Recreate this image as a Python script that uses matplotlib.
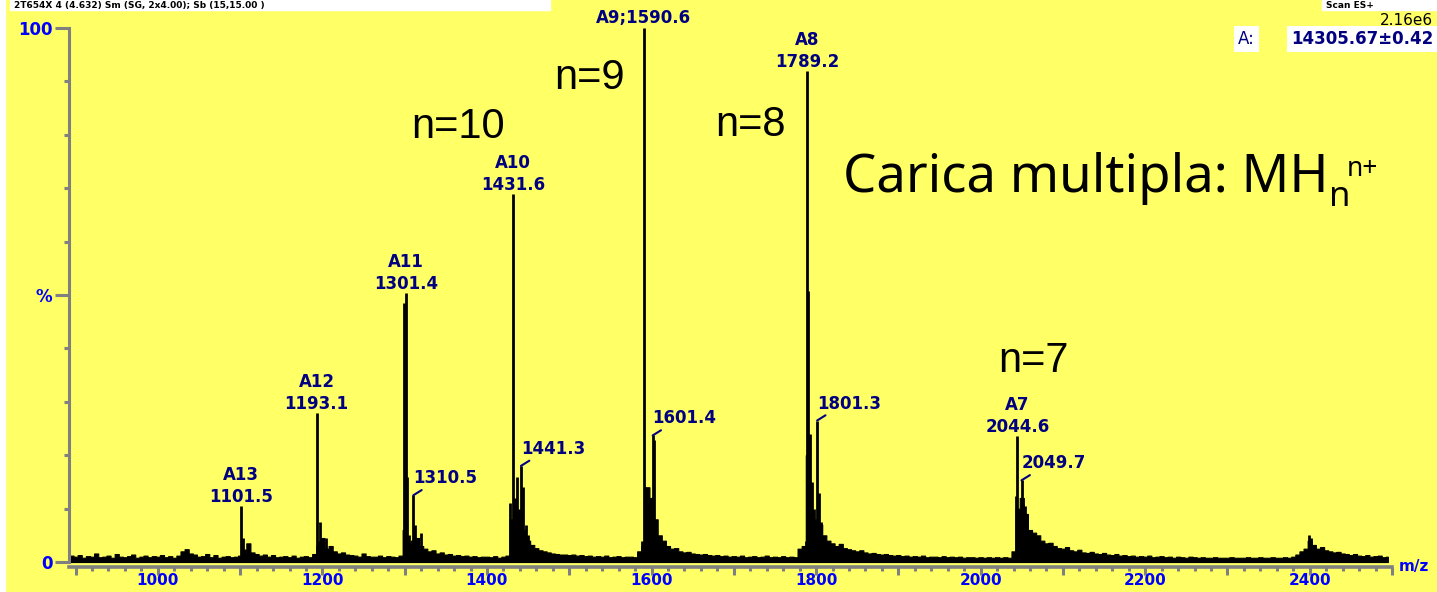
import numpy as np
import matplotlib.pyplot as plt
from matplotlib.ticker import MultipleLocator, FuncFormatter
from matplotlib.patches import Rectangle

# profile (baseline + adduct tails), sampled every 5 m/z starting at 890
profile_start = 890
profile_step = 5
profile_int = [
    2.0, 1.2,
    1.0, 1.3, 0.8, 1.1, 1.0, 1.6, 0.9, 1.0, 1.2, 0.8, 1.5, 1.0, 0.9, 1.1, 1.4, 0.8, 1.0, 1.2, 0.9, 1.1,   # 900
    1.0, 1.3, 0.9, 1.1, 0.8, 1.2, 2.0, 2.4, 1.6, 1.4, 1.0, 1.1, 1.5, 0.9, 1.3, 0.8, 1.0, 1.1, 0.9, 1.0,   # 1000
    1.2, 1.5, 3.5, 1.8, 1.5, 1.2, 1.4, 1.0, 1.3, 0.9, 1.0, 1.1, 0.9, 1.2, 0.8, 1.0, 1.1, 0.9, 1.5, 3.0,   # 1100
    4.5, 2.5, 3.0, 2.0, 1.6, 1.8, 1.4, 1.3, 1.2, 1.0, 1.6, 1.1, 1.0, 1.0, 1.2, 0.9, 1.1, 1.0, 0.9, 1.2,   # 1200
    6.0, 3.5, 4.0, 4.5, 3.0, 2.5, 2.0, 2.2, 1.6, 1.8, 1.4, 1.5, 1.2, 1.3, 1.1, 1.2, 1.0, 1.1, 0.9, 1.0,   # 1300
    1.0, 0.9, 1.1, 0.8, 1.0, 1.2, 8.0, 9.0, 7.0, 6.0, 4.0, 3.2, 2.6, 2.2, 2.0, 1.8, 1.6, 1.5, 1.4, 1.4,   # 1400
    1.3, 1.4, 1.2, 1.3, 1.1, 1.2, 1.0, 1.1, 1.0, 1.2, 0.9, 1.0, 1.1, 0.9, 1.0, 1.0, 0.9, 2.0, 3.0, 14.0,  # 1500
    12.0, 8.0, 5.0, 4.0, 3.0, 2.5, 2.6, 2.0, 1.8, 1.9, 1.6, 1.5, 1.4, 1.5, 1.3, 1.2, 1.3, 1.1, 1.2, 1.0,  # 1600
    1.1, 1.0, 1.2, 0.9, 1.0, 1.1, 0.9, 1.0, 1.2, 0.9, 1.0, 0.9, 1.1, 0.9, 1.0, 0.9, 2.5, 3.0, 20.0, 9.0,  # 1700
    8.0, 7.0, 5.0, 4.0, 3.5, 3.0, 3.4, 2.6, 2.4, 2.2, 2.0, 2.2, 1.8, 1.6, 1.7, 1.5, 1.4, 1.5, 1.3, 1.2,   # 1800
    1.3, 1.1, 1.2, 1.0, 1.1, 1.0, 1.2, 0.9, 1.0, 1.0, 0.9, 1.1, 0.9, 1.0, 0.9, 1.0, 0.8, 0.9, 0.9, 0.8,   # 1900
    0.9, 0.8, 0.9, 0.8, 0.9, 0.8, 0.9, 0.8, 2.0, 10.0, 12.0, 9.0, 6.0, 5.5, 5.0, 4.0, 3.5, 3.6, 3.0, 2.6, # 2000
    2.5, 2.8, 2.2, 2.0, 2.3, 1.8, 1.7, 1.9, 1.6, 1.5, 1.7, 1.4, 1.3, 1.5, 1.2, 1.3, 1.1, 1.2, 1.0, 1.1,   # 2100
    1.0, 1.2, 0.9, 1.0, 1.1, 0.9, 1.0, 0.8, 1.0, 0.9, 0.8, 1.0, 0.9, 0.8, 0.9, 0.8, 0.8, 0.9, 0.8, 0.8,   # 2200
    0.8, 0.9, 0.8, 0.8, 0.8, 0.9, 0.8, 0.8, 0.9, 0.8, 0.8, 0.9, 0.8, 0.8, 0.9, 0.8, 1.0, 1.4, 2.0, 2.5,   # 2300
    4.0, 3.2, 2.5, 2.8, 2.2, 2.0, 1.8, 1.9, 1.6, 1.5, 1.3, 1.5, 1.2, 1.1, 1.3, 1.0, 1.1, 1.2, 0.9, 1.0,   # 2400
]

# centroid sticks of the charge-state clusters
stick_mz = [1101.5, 1104.0, 1106.5,
            1193.1, 1195.0, 1197.5, 1204.0,
            1299.6, 1301.4, 1303.0, 1305.5, 1310.5, 1313.0, 1316.0, 1320.0,
            1428.5, 1431.6, 1433.5, 1436.0, 1438.5, 1441.3, 1443.5, 1447.0, 1450.0,
            1588.8, 1590.6, 1592.2, 1594.0, 1596.0, 1601.4, 1603.2, 1606.0, 1609.0,
            1787.8, 1789.2, 1790.6, 1792.5, 1794.5, 1797.0, 1801.3, 1803.5, 1806.0, 1809.0,
            2042.5, 2044.6, 2046.5, 2049.7, 2052.0, 2054.0, 2056.5, 2060.0, 2064.0,
            2399.0, 2401.0]
stick_int = [10.5, 4.5, 2.5,
             27.9, 4.0, 7.5, 4.5,
             48.5, 50.3, 16.0, 5.0, 12.5, 7.0, 4.0, 5.5,
             11.0, 69.0, 12.0, 16.0, 10.0, 18.0, 14.0, 7.0, 5.0,
             4.0, 100.0, 14.0, 12.5, 8.0, 23.7, 22.8, 6.5, 4.0,
             4.0, 92.0, 50.8, 24.0, 15.0, 10.0, 26.5, 13.0, 7.5, 4.0,
             12.3, 23.6, 9.0, 15.3, 10.8, 10.5, 6.0, 5.2, 3.5,
             5.0, 4.5]

# labelled ions
ion_names = ["A13", "A12", "A11", "A10", "A8", "A7"]
ion_mz = [1101.5, 1193.1, 1301.4, 1431.6, 1789.2, 2044.6]
ion_int = [10.5, 27.9, 50.3, 69.0, 92.0, 23.6]
base_mz, base_int = 1590.6, 100.0
side_mz = [1310.5, 1441.3, 1601.4, 1801.3, 2049.7]
side_int = [12.5, 18.0, 23.7, 26.5, 15.3]

# charge state notes
charge_text = ["n=10", "n=9", "n=8", "n=7"]
charge_mz = [1364.7, 1525.0, 1719.8, 2063.8]
charge_y = [79.4, 88.6, 79.8, 35.5]

YELLOW = "#FFFF66"
NAVY = "#000080"
BLUE = "#0000FF"
GREY = "#808080"

W, H = 1437, 592
fig = plt.figure(figsize=(W / 100, H / 100), dpi=100, facecolor=YELLOW)
ax = fig.add_axes([69 / W, (H - 567) / H, (1392 - 69) / W, (567 - 28) / H])
ax.set_facecolor("none")
ax.set_xlim(892, 2500)
ax.set_ylim(-0.93, 100)

prof_mz = profile_start + profile_step * np.arange(len(profile_int))
ax.fill_between(prof_mz, 0, profile_int, step="mid", color="black", lw=0.8)
ax.vlines(stick_mz, 0, stick_int, color="black", lw=2.0)

# axes look
for s in ["top", "right"]:
    ax.spines[s].set_visible(False)
ax.spines["left"].set_color(GREY)
ax.spines["left"].set_linewidth(2.2)
ax.spines["left"].set_bounds(0, 100)
ax.spines["bottom"].set_color(GREY)
ax.spines["bottom"].set_linewidth(2.6)

ax.xaxis.set_major_locator(MultipleLocator(100))
ax.xaxis.set_minor_locator(MultipleLocator(20))
ax.xaxis.set_major_formatter(FuncFormatter(lambda v, p: f"{int(v)}" if int(round(v)) % 200 == 0 else ""))
ax.tick_params(axis="x", which="major", length=5.5, width=2.2, color=GREY, pad=-1,
               labelcolor=BLUE, labelsize=11)
ax.tick_params(axis="x", which="minor", length=3, width=2.2, color=GREY)
ax.set_yticks([0, 50, 100])
ax.set_yticklabels(["0", "%", "100"])
ax.yaxis.set_minor_locator(MultipleLocator(10))
ax.tick_params(axis="y", which="major", length=10, width=2.2, color=GREY, pad=2,
               labelcolor=BLUE, labelsize=12)
ax.tick_params(axis="y", which="minor", length=3.6, width=2.2, color=GREY)
for lab in ax.get_xticklabels() + ax.get_yticklabels():
    lab.set_fontweight("bold")

fig.text(1399 / W, 1 - 566 / H, "m/z", color=BLUE, fontsize=11, fontweight="bold",
         ha="left", va="center")

# peak labels
lbl = dict(color=NAVY, fontsize=12, fontweight="bold", textcoords="offset pixels",
           ha="center", va="baseline", annotation_clip=False)
for name, m, h in zip(ion_names, ion_mz, ion_int):
    ax.annotate(f"{m:.1f}", (m, h), xytext=(0, 4), **lbl)
    ax.annotate(name, (m, h), xytext=(0, 26), **lbl)
ax.annotate(f"A9;{base_mz:.1f}", (base_mz, base_int), xytext=(0, 5), **lbl)
for m, h in zip(side_mz, side_int):
    ax.annotate(f"{m:.1f}", (m, h), xytext=(0, 12), color=NAVY, fontsize=12,
                fontweight="bold", textcoords="offset pixels", ha="left", va="baseline",
                arrowprops=dict(arrowstyle="-", color=NAVY, lw=1.5, shrinkA=0, shrinkB=0,
                                relpos=(0.2, 0.0)))

for s, m, y in zip(charge_text, charge_mz, charge_y):
    ax.text(m, y, s, fontsize=30, family="Liberation Sans", ha="center", va="baseline")

ax.text(1832.8, 69.2, "Carica multipla: MH", fontsize=38, family="Noto Sans",
        ha="left", va="baseline")
ax.text(2423.0, 66.7, "n", fontsize=25, family="Noto Sans", ha="left", va="baseline")
ax.text(2445.0, 72.3, "n+", fontsize=19, family="Noto Sans", ha="left", va="baseline")

# header strips
fig.patches.append(Rectangle((0, 0), 5 / W, 1, transform=fig.transFigure, color="white", zorder=0))
fig.patches.append(Rectangle((10 / W, 1 - 10 / H), 540 / W, 10 / H, transform=fig.transFigure,
                             color="white", zorder=0))
fig.text(14 / W, 1 - 8 / H, "2T654X 4 (4.632) Sm (SG, 2x4.00); Sb (15,15.00 )",
         fontsize=6.5, fontweight="bold", va="baseline", ha="left")
fig.patches.append(Rectangle((1322 / W, 1 - 10 / H), 115 / W, 10 / H, transform=fig.transFigure,
                             color="white", zorder=0))
fig.text(1326 / W, 1 - 8 / H, "Scan ES+", fontsize=6.5, fontweight="bold", va="baseline", ha="left")
fig.text(1433 / W, 1 - 25 / H, "2.16e6", fontsize=11, va="baseline", ha="right")
fig.text(1238 / W, 1 - 44 / H, "A:", fontsize=12, color=NAVY, va="baseline", ha="left",
         bbox=dict(facecolor="white", edgecolor="none", pad=3))
fig.text(1291 / W, 1 - 44 / H, "14305.67\u00b10.42", fontsize=12, color=NAVY,
         fontweight="bold", va="baseline", ha="left",
         bbox=dict(facecolor="white", edgecolor="none", pad=3))

fig.savefig("out.png", dpi=100, facecolor=YELLOW)
